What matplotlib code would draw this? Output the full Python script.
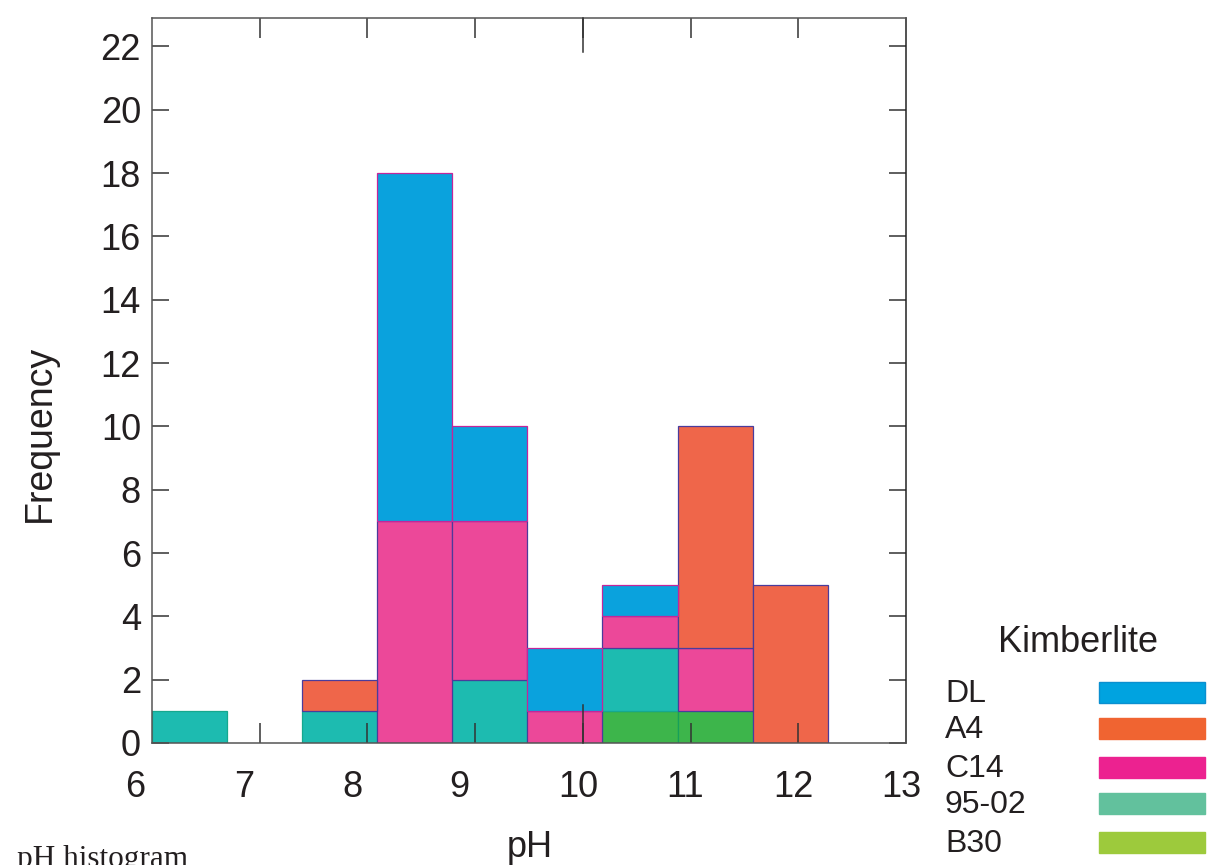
import matplotlib
matplotlib.use("Agg")
import matplotlib.pyplot as plt
import numpy as np
from matplotlib.patches import Rectangle

# Histogram bins (left edges, width) and stacked counts per kimberlite
bin_left = [6.0, 6.697, 7.394, 8.091, 8.788, 9.485, 10.182, 10.879, 11.576, 12.273]
bin_width = 0.697

counts_b30 = [0, 0, 0, 0, 0, 0, 1, 1, 0, 0]
counts_9502 = [1, 0, 1, 0, 2, 0, 2, 0, 0, 0]
counts_c14 = [0, 0, 0, 7, 5, 1, 1, 2, 0, 0]
counts_a4 = [0, 0, 1, 0, 0, 0, 0, 7, 5, 0]
counts_dl = [0, 0, 0, 11, 3, 2, 1, 0, 0, 0]

# stacking order, bottom to top
series_names = ["B30", "95-02", "C14", "A4", "DL"]
series_counts = [counts_b30, counts_9502, counts_c14, counts_a4, counts_dl]
fill_colors = ["#3db54b", "#1dbbb0", "#ec4899", "#ef664a", "#0aa2dd"]
edge_colors = ["#16a05a", "#16a88e", "#4b3b9b", "#4a3c9c", "#c4259a"]

# legend (drawn in the original's order, with its own swatch colours)
legend_names = ["DL", "A4", "C14", "95-02", "B30"]
legend_colors = ["#00a3e0", "#f06431", "#ec2290", "#62c19d", "#9dca3c"]

x_tick_values = [7, 8, 9, 10, 11, 12]
x_label_text = ["6", "7", "8", "9", "10", "11", "12", "13"]
x_label_pos = [5.842, 6.854, 7.857, 8.850, 9.955, 10.949, 11.952, 12.955]

W, H = 1208, 865
FONT = "Liberation Sans"
TEXT_COLOR = "#231f20"
TICK_COLOR = "#333333"
SPINE_COLOR = "#555555"

fig = plt.figure(figsize=(W / 100, H / 100), dpi=100)
ax = fig.add_axes([152 / W, 1 - 743 / H, 754 / W, 725 / H])

# Stacked bars, skip empty pieces so no stray edges show at zero
bottoms = np.zeros(len(bin_left))
for name, counts, fc, ec in zip(series_names, series_counts, fill_colors, edge_colors):
    counts = np.array(counts, dtype=float)
    mask = counts > 0
    ax.bar(np.array(bin_left)[mask], counts[mask], width=bin_width, bottom=bottoms[mask],
           align="edge", color=fc, edgecolor=ec, linewidth=0.9, label=name)
    bottoms += counts

ax.set_xlim(6, 13)
ax.set_ylim(0, 22.9)

# y axis
ax.set_yticks(np.arange(0, 23, 2))
ax.tick_params(axis="y", direction="in", length=12, width=1.1, color=TICK_COLOR,
               left=True, right=True, labelsize=26, pad=8.0, labelcolor=TEXT_COLOR)
for lab in ax.get_yticklabels():
    lab.set_fontfamily(FONT)

# x axis: ticks without labels, labels placed separately (as in the original)
ax.set_xticks(x_tick_values)
ax.set_xticklabels([])
ax.tick_params(axis="x", direction="in", length=14.5, width=1.1, color=TICK_COLOR,
               bottom=True, top=True)
xt = ax.get_xaxis_transform()
ax.plot([10, 10], [0, 0.052], transform=xt, color=TICK_COLOR, lw=1.1, clip_on=False, zorder=3)
ax.plot([10, 10], [0.953, 1], transform=xt, color=TICK_COLOR, lw=1.1, clip_on=False, zorder=3)
for pos, txt in zip(x_label_pos, x_label_text):
    ax.text(pos, -0.0745, txt, transform=xt, ha="center", va="baseline",
            fontsize=26, family=FONT, color=TEXT_COLOR, clip_on=False)

for sp in ax.spines.values():
    sp.set_color(SPINE_COLOR)
    sp.set_linewidth(1.1)
ax.spines["right"].set_color("#222222")

ax.set_xlabel("pH", fontsize=26, family=FONT, va="baseline", color=TEXT_COLOR)
ax.xaxis.set_label_coords((530 - 152) / 754, -(857 - 743) / 725)
ax.set_ylabel("Frequency", fontsize=27, family=FONT, va="center", color=TEXT_COLOR)
ax.yaxis.set_label_coords((40 - 152) / 754, (743 - 433) / 725)

# Manual legend at the right
fig.text(1078 / W, 1 - 652 / H, "Kimberlite", ha="center", va="baseline",
         fontsize=26, family=FONT, color=TEXT_COLOR)
row_base = [702, 738, 777, 813, 852]
for i, (name, col) in enumerate(zip(legend_names, legend_colors)):
    fig.text(945 / W, 1 - row_base[i] / H, name, ha="left", va="baseline",
             fontsize=23, family=FONT, color=TEXT_COLOR)
    top = row_base[i] - 21
    ec = "#0a8fd0" if name == "DL" else col
    fig.add_artist(Rectangle((1099 / W, 1 - (top + 22) / H), 106 / W, 21 / H,
                             transform=fig.transFigure, facecolor=col,
                             edgecolor=ec, linewidth=1.0))

# caption, cut at the bottom edge like the original
fig.text(17 / W, -1.5 / H, "pH histogram", ha="left", va="baseline",
         fontsize=22.5, family="Liberation Serif", color=TEXT_COLOR)

fig.savefig("out.png", dpi=100)
